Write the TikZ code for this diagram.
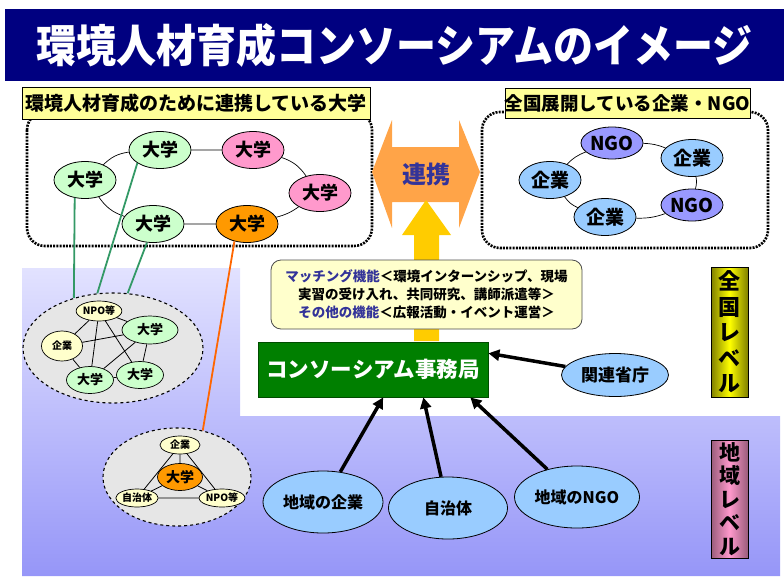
\documentclass[tikz,border=0pt]{standalone}
\usepackage{fontspec}
\setmainfont{Noto Sans CJK JP}
\usepackage{tikz}
\usetikzlibrary{shapes.geometric,arrows.meta}
\definecolor{navy}{HTML}{000080}
\definecolor{bgtop}{HTML}{E2E2FF}
\definecolor{bgbot}{HTML}{9696F8}
\definecolor{midori}{HTML}{CCFFCC}
\definecolor{momo}{HTML}{FF99CC}
\definecolor{daidai}{HTML}{FF9900}
\definecolor{mizu}{HTML}{99CCFF}
\definecolor{fuji}{HTML}{9999FF}
\definecolor{kiiro}{HTML}{FFFFCC}
\definecolor{fuda}{HTML}{FFFF99}
\definecolor{haiiro}{HTML}{E6E6E6}
\definecolor{sen}{HTML}{339966}
\definecolor{sendai}{HTML}{FF6600}
\definecolor{kon}{HTML}{333399}
\definecolor{jimu}{HTML}{007F00}
\definecolor{renkeisoto}{HTML}{FFA448}
\definecolor{renkeinaka}{HTML}{FFE2BC}
\definecolor{kogane}{HTML}{FFCC00}
\newcommand{\jfont}[2]{\fontsize{#1}{#2}\selectfont\bfseries}

\begin{document}
\begin{tikzpicture}[x=1pt,y=-1pt,
    daigaku/.style={ellipse,draw,line width=0.8pt,inner sep=0pt,minimum width=62pt,minimum height=37pt,font=\jfont{18}{18}},
    kigyo/.style={ellipse,draw,line width=0.8pt,inner sep=0pt,minimum width=62pt,minimum height=37pt,font=\jfont{19}{19}},
    chiiki/.style={ellipse,draw,line width=0.8pt,fill=mizu,inner sep=0pt,minimum width=120pt,minimum height=62pt,font=\jfont{16}{16}},
    kyoten/.style={ellipse,draw,dashed,line width=1.1pt,fill=haiiro},
    komono/.style={ellipse,draw,line width=0.7pt,inner sep=0pt,font=\jfont{10}{10}},
    fudabox/.style={draw,line width=0.8pt,fill=fuda,inner sep=0pt,font=\jfont{19}{19}},
    waku/.style={line width=2.6pt,dash pattern=on 2pt off 1.2pt,rounded corners=18pt},
    yajirushi/.style={line width=3.5pt,-{Triangle[length=11pt,width=11pt]}},
    level/.style={draw,line width=0.8pt,inner sep=0pt,minimum width=37pt,align=center}]
\useasboundingbox (0,0) rectangle (784,576);

% haikei
\shade[top color=bgtop,bottom color=bgbot] (22,268) -- (240,268) -- (240,416) -- (780,416) -- (780,576) -- (22,576) -- cycle;

\node[fill=navy,minimum width=779pt,minimum height=72pt,inner sep=0pt,text=white,font=\jfont{40}{40}] (title) at (394.5,45) {\scalebox{1}[1.12]{環境人材育成コンソーシアムのイメージ}};

% daigaku no wa
\draw[waku] (27,112) rectangle (372,246);
\node[fudabox,minimum width=348pt,minimum height=32pt] (fudaL) at (196,103) {環境人材育成のために連携している大学};
\node[daigaku,fill=midori] (u1) at (85,180) {大学};
\node[daigaku,fill=midori] (u2) at (160,150) {大学};
\node[daigaku,fill=momo] (u3) at (253,150) {大学};
\node[daigaku,fill=momo] (u4) at (320,193) {大学};
\node[daigaku,fill=daidai] (u5) at (247,224) {大学};
\node[daigaku,fill=midori] (u6) at (153,224) {大学};
\draw[line width=0.7pt] (u1) to[bend left=18] (u2) (u2) -- (u3) (u3) to[bend left=18] (u4)
    (u4) to[bend left=10] (u5) (u5) -- (u6) (u6) to[bend left=18] (u1);

% kigyo NGO no wa
\draw[waku] (482,112) rectangle (768,248);
\node[fudabox,minimum width=241pt,minimum height=30pt,font=\jfont{18.5}{18.5}] (fudaR) at (627.5,103) {全国展開している企業・NGO};
\node[kigyo,fill=fuji,minimum height=32pt] (g1) at (612,143) {NGO};
\node[kigyo,fill=mizu] (k1) at (692,158) {企業};
\node[kigyo,fill=fuji,minimum height=32pt] (g2) at (692,205) {NGO};
\node[kigyo,fill=mizu] (k2) at (605,217) {企業};
\node[kigyo,fill=mizu] (k3) at (550,180) {企業};
\draw[line width=0.7pt] (k3) to[bend left=12] (g1) (g1) to[bend left=10] (k1) (k1) to[bend left=12] (g2)
    (g2) to[bend left=10] (k2) (k2) to[bend left=15] (k3);

% renkei
\shade[top color=renkeisoto,middle color=renkeinaka,bottom color=renkeisoto]
    (372,172) -- (392,120) -- (392,147) -- (459,147) -- (459,120) -- (480,172)
    -- (459,228) -- (459,202) -- (392,202) -- (392,228) -- cycle;
\node[text=kon,font=\jfont{24}{24}] (renkei) at (426,174) {連携};
\fill[kogane] (426,200) -- (451,235) -- (439,235) -- (439,341) -- (414,341) -- (414,235) -- (402,235) -- cycle;

% chiiki no kyoten
\node[kyoten,minimum width=180pt,minimum height=110pt] (kyoten1) at (113,348) {};
\node[komono,fill=kiiro,minimum width=40pt,minimum height=20pt] (n1npo) at (99,311) {NPO等};
\node[komono,fill=kiiro,minimum width=41pt,minimum height=30pt] (n1kig) at (62,346) {企業};
\node[komono,fill=midori,minimum width=56pt,minimum height=28pt,font=\jfont{13}{13}] (n1d1) at (150,330) {大学};
\node[komono,fill=midori,minimum width=47pt,minimum height=27pt,font=\jfont{13}{13}] (n1d2) at (90,380) {大学};
\node[komono,fill=midori,minimum width=47pt,minimum height=27pt,font=\jfont{13}{13}] (n1d3) at (140,375) {大学};
\draw[line width=0.8pt] (n1npo) -- (n1kig) (n1npo) -- (n1d1) (n1npo) -- (n1d2) (n1npo) -- (n1d3)
    (n1kig) -- (n1d1) (n1kig) -- (n1d2) (n1d1) -- (n1d2) (n1d1) -- (n1d3) (n1d2) -- (n1d3);

\node[kyoten,minimum width=148pt,minimum height=98pt] (kyoten2) at (177,477) {};
\node[komono,fill=kiiro,minimum width=40pt,minimum height=18pt] (n2kig) at (180,445) {企業};
\node[komono,fill=daidai,minimum width=45pt,minimum height=27pt,font=\jfont{14}{14}] (n2dai) at (180,477) {大学};
\node[komono,fill=kiiro,minimum width=37pt,minimum height=18pt] (n2jic) at (137,498) {自治体};
\node[komono,fill=kiiro,minimum width=38pt,minimum height=18pt] (n2npo) at (222,498) {NPO等};
\draw[line width=0.8pt] (n2kig) -- (n2dai) (n2kig) -- (n2jic) (n2kig) -- (n2npo)
    (n2dai) -- (n2jic) (n2dai) -- (n2npo) (n2jic) -- (n2npo);

\draw[sen,line width=1.8pt] (u1.240) -- (kyoten1.128);
\draw[sen,line width=1.8pt] (u2.210) -- (kyoten1.106);
\draw[sen,line width=1.8pt] (u6.252) -- (kyoten1.75);
\draw[sendai,line width=1.8pt] (u5.234) -- (kyoten2.61);

% jimukyoku
\node[draw=gray!60!black,line width=0.8pt,fill=kiiro,rounded corners=10pt,minimum width=311pt,minimum height=69pt,inner sep=0pt,align=center,font=\jfont{13.5}{18}] (kinou) at (426.5,294.5)
    {\textcolor{kon}{マッチング機能}＜環境インターンシップ、現場\\実習の受け入れ、共同研究、講師派遣等＞\\\textcolor{kon}{その他の機能}＜広報活動・イベント運営＞};
\node[draw=black!70!green,line width=0.8pt,fill=jimu,minimum width=230pt,minimum height=55pt,inner sep=0pt,text=white,font=\jfont{21.5}{21.5}] (jimu) at (373,369.5) {コンソーシアム事務局};
\node[ellipse,draw,line width=0.8pt,fill=mizu,inner sep=0pt,minimum width=107pt,minimum height=43pt,font=\jfont{17}{17}] (shocho) at (615,375) {関連省庁};
\draw[yajirushi] (shocho) -- (jimu.8);

\node[chiiki] (kigyoC) at (323,502) {地域の企業};
\node[chiiki,minimum width=119pt] (jichitai) at (448,508) {自治体};
\node[chiiki,minimum width=125pt] (ngoC) at (577,497) {地域のNGO};
\draw[yajirushi] (kigyoC) -- (jimu.-70);
\draw[yajirushi] (jichitai) -- (jimu.-29);
\draw[yajirushi] (ngoC) -- (jimu.-16);

% level
\node[level,left color=yellow!50!black,right color=yellow!50!black,middle color=yellow,minimum height=130pt,font=\jfont{22}{25.5}] (zenkoku) at (729.5,332) {全\\国\\レ\\ベ\\ル};
\node[level,left color=momo!60!black,right color=momo!60!black,middle color=momo,minimum height=118pt,font=\jfont{21}{23.5}] (chiikiL) at (729.5,499) {地\\域\\レ\\ベ\\ル};
\end{tikzpicture}
\end{document}
